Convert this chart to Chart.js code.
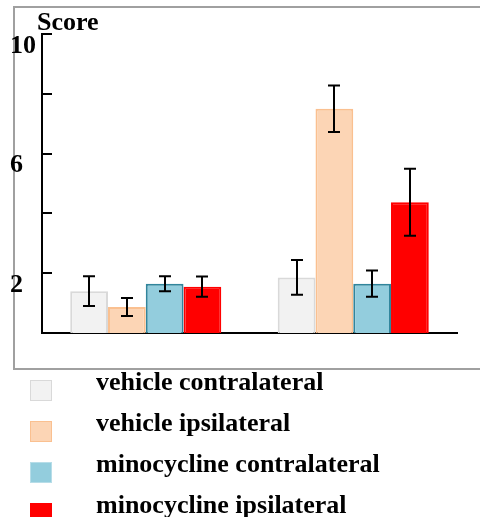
<!DOCTYPE html>
<html>
<head>
<meta charset="utf-8">
<script src="https://cdn.jsdelivr.net/npm/chart.js@4.4.1/dist/chart.umd.min.js"></script>
<style>
  html, body { margin: 0; padding: 0; background: #fff; overflow: hidden; }
  body { width: 480px; height: 517px; position: relative; font-family: "Liberation Serif", serif; }
  #frame {
    position: absolute; left: 13px; top: 6px; width: 480px; height: 360px;
    border: 2px solid #a0a0a0; border-right: none;
  }
  #chart { position: absolute; left: 0; top: 0; }
  #legend { position: absolute; left: 0; top: 369px; margin: 0; padding: 0; list-style: none; }
  #legend li { position: relative; height: 41px; width: 480px; }
  #legend .box { position: absolute; left: 30px; top: 11px; width: 20px; height: 19px; border: 1px solid; }
  #legend .txt {
    position: absolute; left: 96px; top: 0; white-space: nowrap;
    font: bold 26px/26px "Liberation Serif", serif; color: #000;
  }
</style>
</head>
<body>
<div id="frame"></div>
<canvas id="chart" width="480" height="517"></canvas>
<ul id="legend"></ul>
<script>
// Données
const categories = ['Groupe 1', 'Groupe 2'];
const seriesNames = ['vehicle contralateral', 'vehicle ipsilateral', 'minocycline contralateral', 'minocycline ipsilateral'];
const vehicleContra = [1.4, 1.86];
const vehicleIpsi = [0.87, 7.5];
const minoContra = [1.65, 1.65];
const minoIpsi = [1.55, 4.37];
// erreurs (±)
const vehicleContraErr = [0.5, 0.58];
const vehicleIpsiErr = [0.3, 0.78];
const minoContraErr = [0.25, 0.44];
const minoIpsiErr = [0.34, 1.12];
const yTickLabels = ['2', '6', '10'];
const axisTitle = 'Score';

const FILL = ['#f2f2f2', '#fcd5b5', '#93cddd', '#ff0000'];
const STROKE = ['#d9d9d9', '#fac090', '#31859c', '#ff0000'];
const LEGEND_STROKE = ['#d9d9d9', '#fac090', '#b7dde8', '#ff0000'];
const FONT = { family: '"Liberation Serif", serif', size: 26, weight: 'bold' };

const values = [vehicleContra, vehicleIpsi, minoContra, minoIpsi];
const errors = [vehicleContraErr, vehicleIpsiErr, minoContraErr, minoIpsiErr];

// Petits traits de graduation vers l'intérieur + titre "Score"
const axisDecor = {
    id: 'axisDecor',
    afterDraw(chart) {
        const { ctx, chartArea } = chart;
        const y = chart.scales.y;
        ctx.save();
        ctx.strokeStyle = '#000';
        ctx.lineWidth = 2;
        y.ticks.forEach((t, i) => {
            const py = Math.round(y.getPixelForTick(i));
            ctx.beginPath();
            ctx.moveTo(chartArea.left, py);
            ctx.lineTo(chartArea.left + 10, py);
            ctx.stroke();
        });
        ctx.fillStyle = '#000';
        ctx.font = 'bold 26px "Liberation Serif", serif';
        ctx.textAlign = 'left';
        ctx.textBaseline = 'alphabetic';
        ctx.fillText(axisTitle, chartArea.left - 5, chartArea.top - 4);
        ctx.restore();
    }
};

// Barres d'erreur
const errorBars = {
    id: 'errorBars',
    afterDatasetsDraw(chart) {
        const { ctx } = chart;
        const y = chart.scales.y;
        ctx.save();
        ctx.strokeStyle = '#000';
        ctx.lineWidth = 2;
        chart.data.datasets.forEach((ds, di) => {
            const meta = chart.getDatasetMeta(di);
            meta.data.forEach((bar, i) => {
                const v = ds.data[i];
                const e = errors[di][i];
                const top = y.getPixelForValue(v + e);
                const bot = y.getPixelForValue(v - e);
                const x = Math.round(bar.x);
                ctx.beginPath();
                ctx.moveTo(x, top); ctx.lineTo(x, bot);
                ctx.moveTo(x - 6, top); ctx.lineTo(x + 6, top);
                ctx.moveTo(x - 6, bot); ctx.lineTo(x + 6, bot);
                ctx.stroke();
            });
        });
        ctx.restore();
    }
};

const chart = new Chart(document.getElementById('chart'), {
    type: 'bar',
    data: {
        labels: categories,
        datasets: seriesNames.map((name, i) => ({
            label: name,
            data: values[i],
            backgroundColor: FILL[i],
            borderColor: STROKE[i],
            borderWidth: 2,
            borderSkipped: 'bottom',
            categoryPercentage: 0.728,
            barPercentage: 1.0,
        })),
    },
    options: {
        responsive: false,
        devicePixelRatio: 1,
        animation: false,
        layout: { padding: { left: 10, top: 34, right: 23, bottom: 184 } },
        plugins: {
            legend: { display: false },
            tooltip: { enabled: false },
            title: { display: false },
        },
        scales: {
            x: {
                afterFit(scale) { scale.height = 0; },
                grid: { display: false },
                ticks: { display: false },
                border: { display: true, color: '#000', width: 2 },
            },
            y: {
                min: 0,
                max: 10,
                afterFit(scale) { scale.width = 32; },
                grid: { display: false },
                border: { display: true, color: '#000', width: 2 },
                ticks: {
                    stepSize: 2,
                    crossAlign: 'far',
                    labelOffset: 12,
                    padding: 0,
                    color: '#000',
                    font: FONT,
                    callback: (v) => (yTickLabels.includes(String(v)) ? String(v) : ''),
                },
            },
        },
    },
    plugins: [axisDecor, errorBars],
});

// Légende HTML construite à partir des jeux de données
const legend = document.getElementById('legend');
chart.data.datasets.forEach((ds, i) => {
    const li = document.createElement('li');
    li.innerHTML = '<span class="box" style="background:' + ds.backgroundColor +
        ';border-color:' + LEGEND_STROKE[i] + '"></span><span class="txt">' + ds.label + '</span>';
    legend.appendChild(li);
});
</script>
</body>
</html>
